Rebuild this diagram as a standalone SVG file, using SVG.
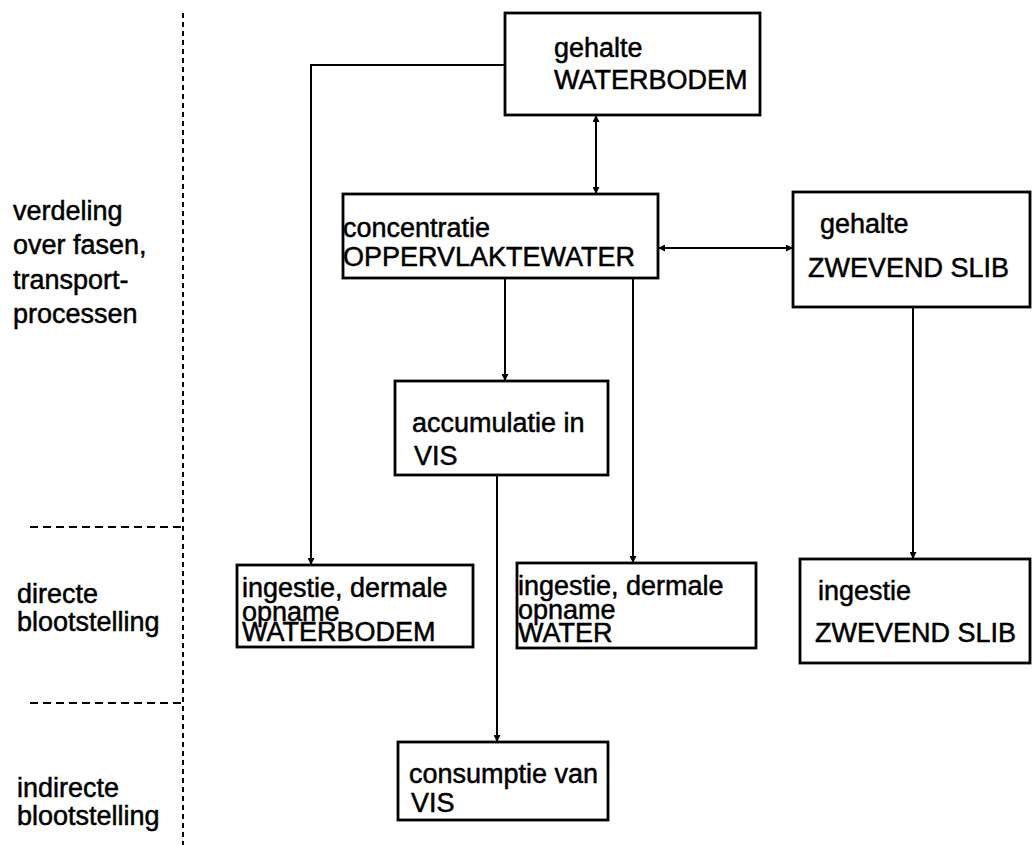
<svg xmlns="http://www.w3.org/2000/svg" width="1032" height="845" viewBox="0 0 1032 845">
<style>
.box{fill:#fff;stroke:#000;stroke-width:2.8}
.t{font-family:"Liberation Sans",Arial,sans-serif;font-size:27px;fill:#000;stroke:#000;stroke-width:0.5}
.c{fill:none;stroke:#000;stroke-width:2}
.d{fill:none;stroke:#000;stroke-width:2;stroke-dasharray:5 4}
.dh{fill:none;stroke:#000;stroke-width:2;stroke-dasharray:8 5}
</style>
<defs>
<marker id="ah" viewBox="0 0 10 10" refX="10" refY="5" markerWidth="8" markerHeight="7" markerUnits="userSpaceOnUse" orient="auto-start-reverse">
<path d="M0,0 L10,5 L0,10 z" fill="#000"/>
</marker>
</defs>
<rect width="1032" height="845" fill="#fff"/>
<g id="guides">
<line class="d" x1="183" y1="13" x2="183" y2="845"/>
<line class="dh" x1="30" y1="527" x2="183" y2="527"/>
<line class="dh" x1="30" y1="703" x2="183" y2="703"/>
</g>
<g id="labels" class="t">
<text x="13" y="220">verdeling</text>
<text x="13" y="254">over fasen,</text>
<text x="13" y="289">transport-</text>
<text x="13" y="323">processen</text>
<text x="17" y="603">directe</text>
<text x="17" y="631">blootstelling</text>
<text x="17" y="797">indirecte</text>
<text x="17" y="825">blootstelling</text>
</g>
<g id="connectors">
<line class="c" x1="596" y1="115" x2="596" y2="194" marker-start="url(#ah)" marker-end="url(#ah)"/>
<polyline class="c" points="505,65 311,65 311,565" marker-end="url(#ah)"/>
<line class="c" x1="658" y1="248" x2="793" y2="248" marker-start="url(#ah)" marker-end="url(#ah)"/>
<line class="c" x1="505" y1="278" x2="505" y2="381" marker-end="url(#ah)"/>
<line class="c" x1="633" y1="278" x2="633" y2="563" marker-end="url(#ah)"/>
<line class="c" x1="913" y1="307" x2="913" y2="559" marker-end="url(#ah)"/>
<line class="c" x1="497" y1="475" x2="497" y2="742" marker-end="url(#ah)"/>
</g>
<g id="n-waterbodem">
<rect class="box" x="505" y="13" width="255" height="102"/>
<text class="t" x="554" y="57">gehalte</text>
<text class="t" x="554" y="89">WATERBODEM</text>
</g>
<g id="n-oppervlaktewater">
<rect class="box" x="343" y="194" width="315" height="84"/>
<text class="t" x="343" y="237">concentratie</text>
<text class="t" x="343" y="266">OPPERVLAKTEWATER</text>
</g>
<g id="n-zwevendslib">
<rect class="box" x="793" y="192" width="237" height="115"/>
<text class="t" x="820" y="233">gehalte</text>
<text class="t" x="808" y="277">ZWEVEND SLIB</text>
</g>
<g id="n-vis">
<rect class="box" x="395" y="381" width="213" height="94"/>
<text class="t" x="412" y="432">accumulatie in</text>
<text class="t" x="414" y="465">VIS</text>
</g>
<g id="n-ing-waterbodem">
<rect class="box" x="237" y="565" width="236" height="82"/>
<text class="t" x="242" y="597">ingestie, dermale</text>
<text class="t" x="242" y="621">opname</text>
<text class="t" x="242" y="641">WATERBODEM</text>
</g>
<g id="n-ing-water">
<rect class="box" x="517" y="563" width="239" height="85"/>
<text class="t" x="518" y="595">ingestie, dermale</text>
<text class="t" x="518" y="619">opname</text>
<text class="t" x="518" y="642">WATER</text>
</g>
<g id="n-ing-zwevendslib">
<rect class="box" x="800" y="559" width="230" height="104"/>
<text class="t" x="818" y="600">ingestie</text>
<text class="t" x="815" y="642">ZWEVEND SLIB</text>
</g>
<g id="n-consumptie">
<rect class="box" x="398" y="742" width="210" height="78"/>
<text class="t" x="409" y="783">consumptie van</text>
<text class="t" x="411" y="812">VIS</text>
</g>
</svg>
